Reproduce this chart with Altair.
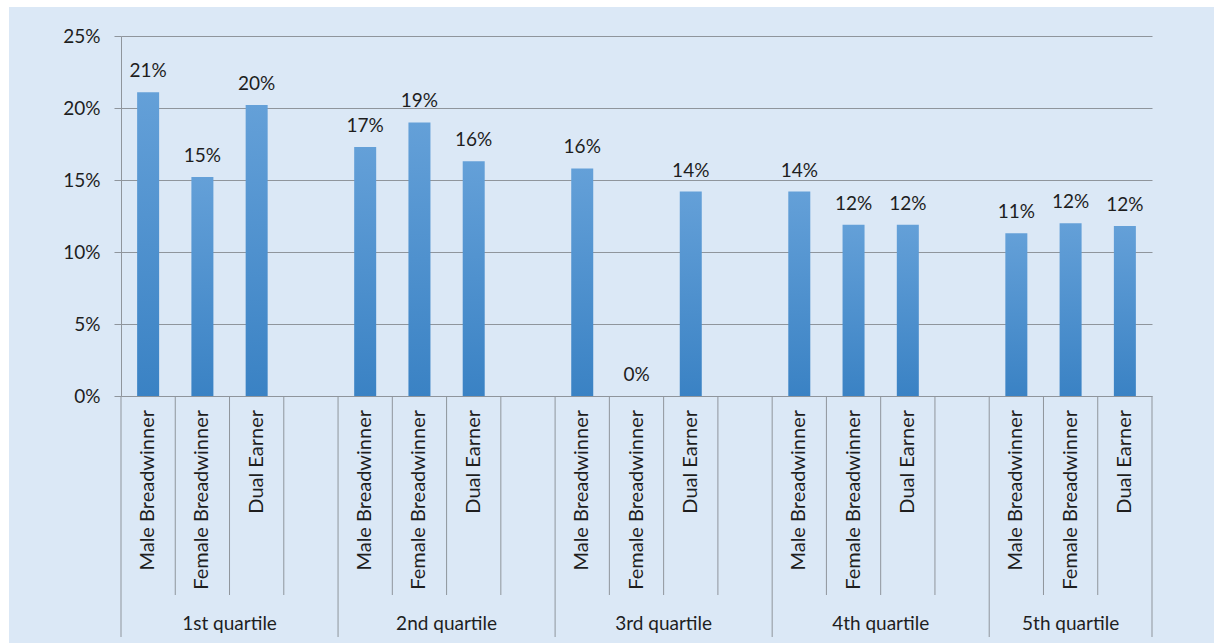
import altair as alt
import pandas as pd

quartiles = ["1st quartile", "2nd quartile", "3rd quartile", "4th quartile", "5th quartile"]
types = ["Male Breadwinner", "Female Breadwinner", "Dual Earner"]
male = [21.1, 17.3, 15.8, 14.2, 11.3]
female = [15.2, 19.0, 0.0, 11.9, 12.0]
dual = [20.2, 16.3, 14.2, 11.9, 11.8]
y_ticks = [0, 5, 10, 15, 20, 25]

SLOTS_PER_GROUP = 4
N_SLOTS = 19
PLOT_W, PLOT_H = 1031, 360
LEFT, TOP = 121, 36
FONT = "Lato"
TEXT_COLOR = "#1e1e1e"
LINE_COLOR = "#8f959c"
BG = "#dbe8f6"

rows = []
for gi, q in enumerate(quartiles):
    for ti, (t, vals) in enumerate(zip(types, [male, female, dual])):
        slot = gi * SLOTS_PER_GROUP + ti
        v = vals[gi]
        rows.append({"quartile": q, "type": t, "value": v, "pos": slot + 0.5,
                     "label": f"{round(v):.0f}%"})
bars_df = pd.DataFrame(rows)

groups_df = pd.DataFrame([{"quartile": q,
                           "center": (gi * SLOTS_PER_GROUP + min(gi * SLOTS_PER_GROUP + 4, N_SLOTS)) / 2}
                          for gi, q in enumerate(quartiles)])

major = [0, 4, 8, 12, 16, 19]
minor = [b for b in range(1, N_SLOTS) if b not in major]
major_df = pd.DataFrame({"b": major})
minor_df = pd.DataFrame({"b": minor})

xscale = alt.Scale(domain=[0, N_SLOTS], nice=False, zero=False, padding=0)
yscale = alt.Scale(domain=[0, 25], nice=False)

one = pd.DataFrame({"a": [0]})
white_top = alt.Chart(one).mark_rect(color="white").encode(
    x=alt.value(-LEFT), x2=alt.value(1214 - LEFT),
    y=alt.value(-TOP), y2=alt.value(-(TOP - 7)))
white_left = alt.Chart(one).mark_rect(color="white").encode(
    x=alt.value(-LEFT), x2=alt.value(-(LEFT - 9)),
    y=alt.value(-TOP), y2=alt.value(643 - TOP))

bars = alt.Chart(bars_df).mark_bar(
    width=22,
    color=alt.Gradient(gradient="linear",
                       stops=[alt.GradientStop(color="#64a0d8", offset=0),
                              alt.GradientStop(color="#3a82c4", offset=1)],
                       x1=0, x2=0, y1=0, y2=1)
).encode(
    x=alt.X("pos:Q", scale=xscale, axis=None),
    y=alt.Y("value:Q", scale=yscale,
            axis=alt.Axis(values=y_ticks, title=None, labelExpr="datum.value + '%'",
                          grid=True, gridColor=LINE_COLOR, gridWidth=1,
                          domainColor=LINE_COLOR, tickColor=LINE_COLOR, tickSize=7,
                          labelPadding=14, labelFont=FONT, labelFontSize=19,
                          labelColor=TEXT_COLOR)),
)

vals = alt.Chart(bars_df).mark_text(baseline="alphabetic", dy=-15, font=FONT,
                                    fontSize=19, color=TEXT_COLOR).encode(
    x=alt.X("pos:Q", scale=xscale), y=alt.Y("value:Q", scale=yscale), text="label:N")

cats = alt.Chart(bars_df).mark_text(angle=270, align="right", baseline="middle",
                                    font=FONT, fontSize=20, color=TEXT_COLOR).encode(
    x=alt.X("pos:Q", scale=xscale), y=alt.value(410 - TOP), text="type:N")

grp = alt.Chart(groups_df).mark_text(baseline="middle", font=FONT, fontSize=19,
                                     color=TEXT_COLOR).encode(
    x=alt.X("center:Q", scale=xscale), y=alt.value(624 - TOP), text="quartile:N")

minor_rules = alt.Chart(minor_df).mark_rule(color=LINE_COLOR, strokeWidth=1).encode(
    x=alt.X("b:Q", scale=xscale), y=alt.value(PLOT_H), y2=alt.value(595 - TOP))
major_rules = alt.Chart(major_df).mark_rule(color=LINE_COLOR, strokeWidth=1).encode(
    x=alt.X("b:Q", scale=xscale), y=alt.value(PLOT_H), y2=alt.value(637 - TOP))

chart = alt.layer(bars, vals, cats, grp, minor_rules, major_rules, white_top, white_left).properties(
    width=PLOT_W, height=PLOT_H,
    autosize=alt.AutoSizeParams(type="none"),
    padding={"left": LEFT, "top": TOP, "right": 1214 - LEFT - PLOT_W, "bottom": 643 - TOP - PLOT_H},
    background=BG,
).configure_view(stroke=None)

chart.save("out.html", embed_options={"renderer": "svg", "actions": False})
